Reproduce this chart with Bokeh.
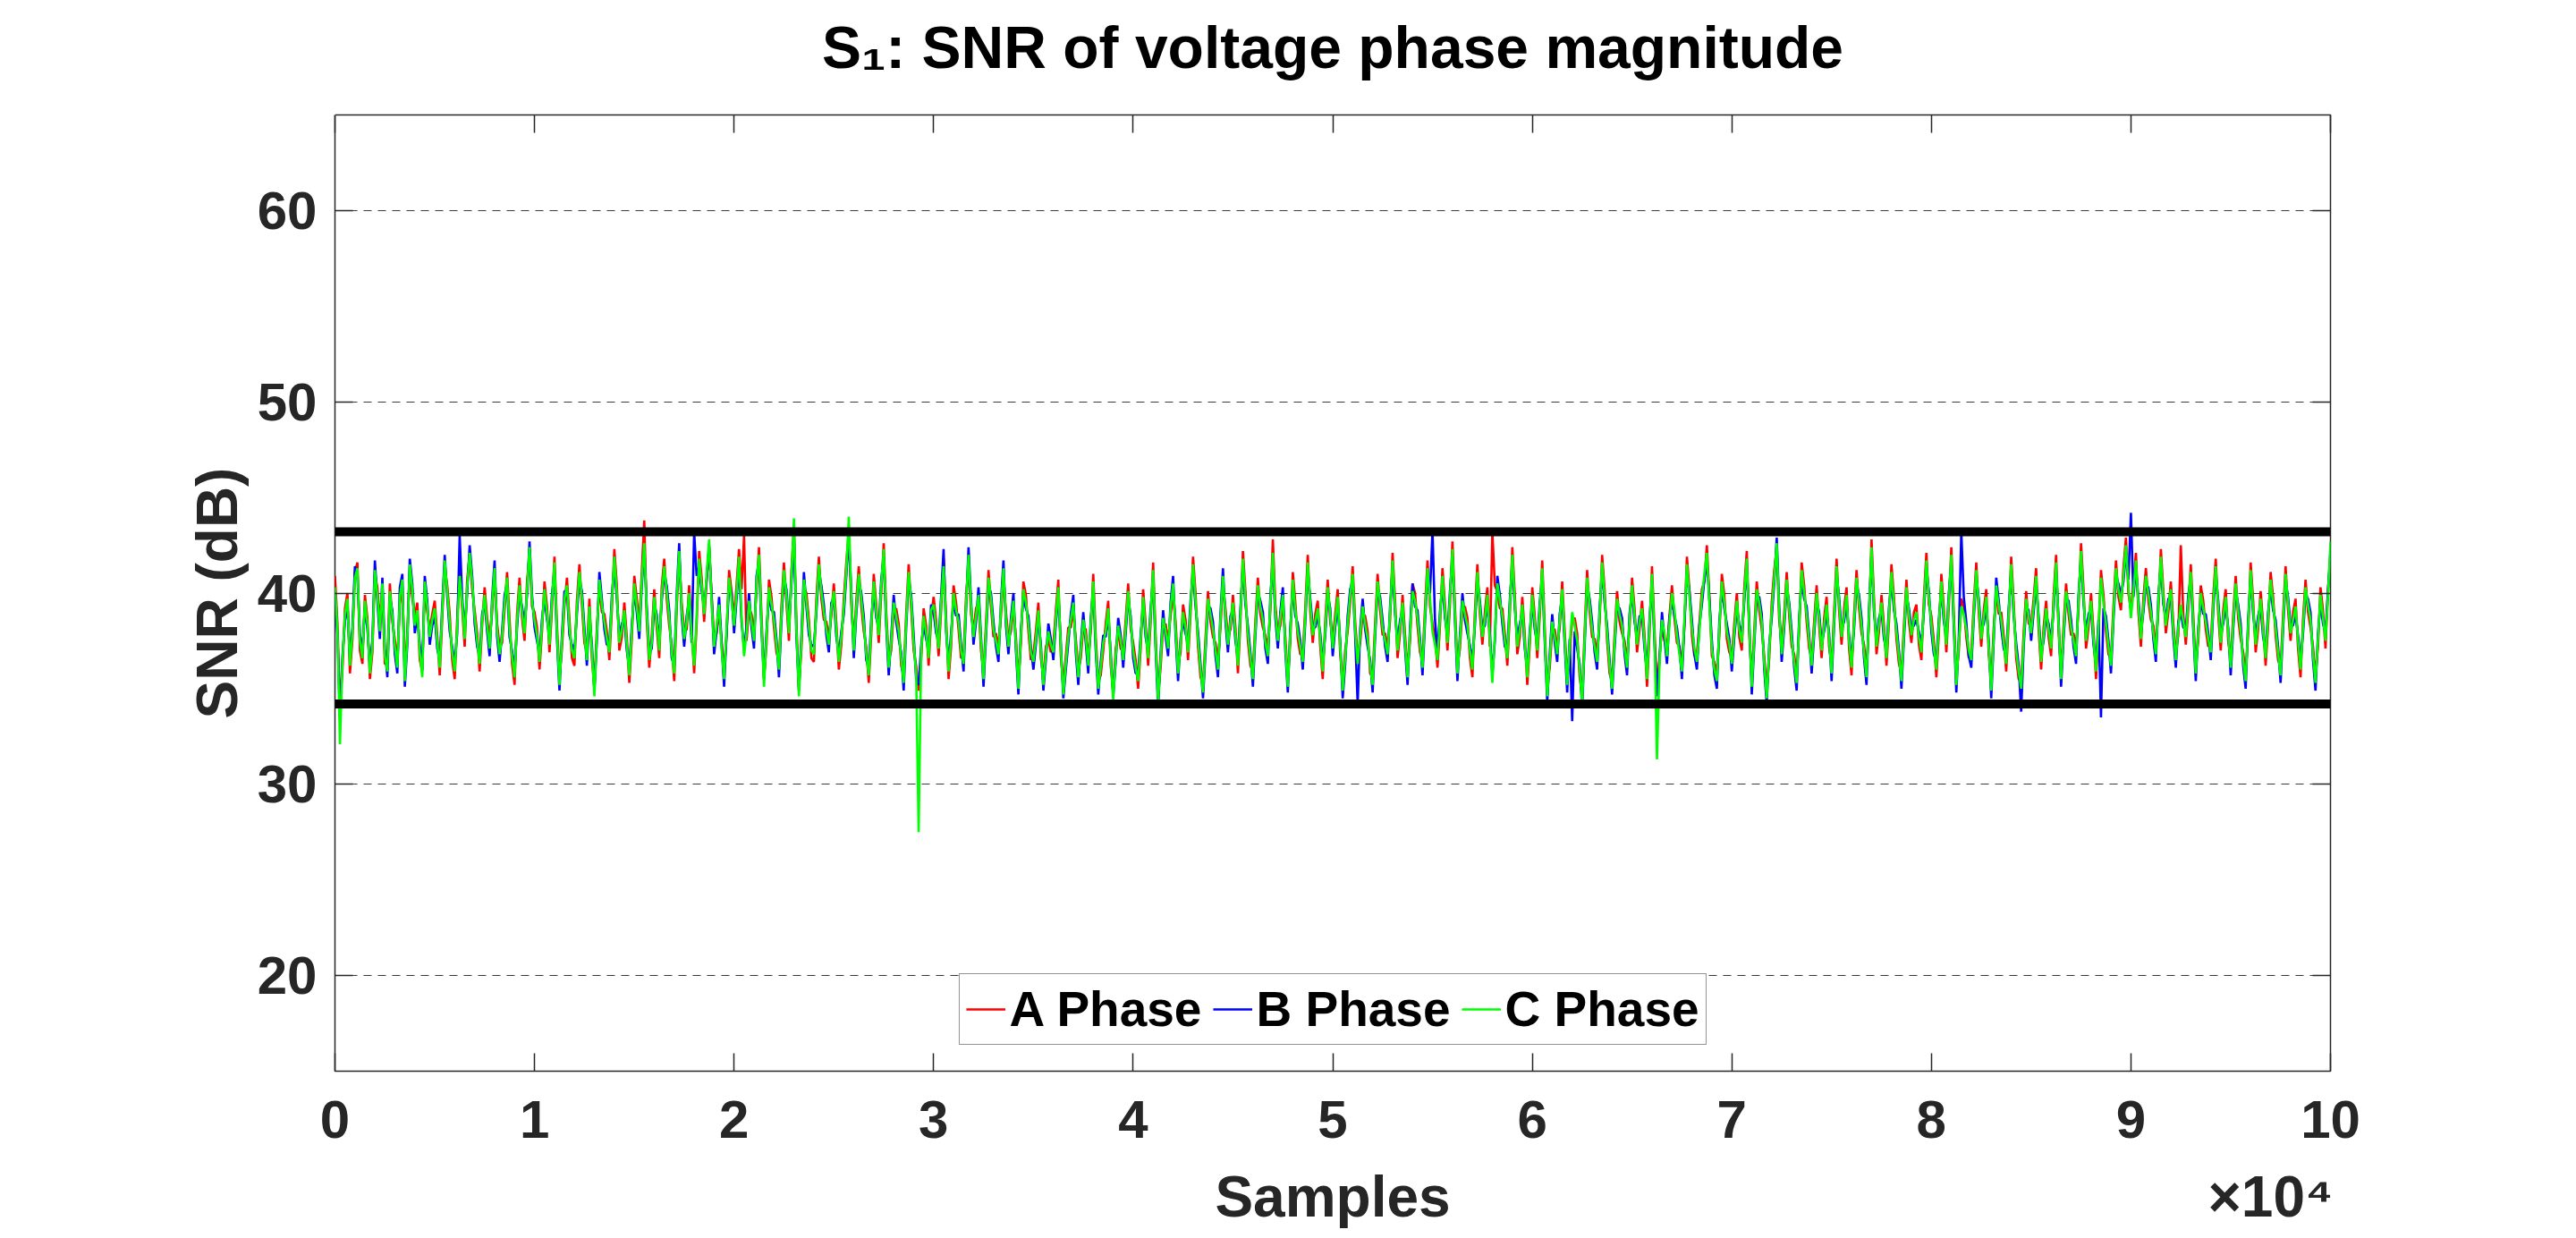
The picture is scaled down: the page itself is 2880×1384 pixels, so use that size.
import numpy as np
from bokeh.plotting import figure
from bokeh.models import Range1d, LinearAxis, FixedTicker, Legend, LegendItem, Span
from bokeh.embed import file_html
from bokeh.resources import INLINE

# ---------------- data ----------------
x_ticks = [0, 10000, 20000, 30000, 40000, 50000, 60000, 70000, 80000, 90000, 100000]
x_tick_labels = ["0", "1", "2", "3", "4", "5", "6", "7", "8", "9", "10"]
y_ticks = [20, 30, 40, 50, 60]
thresholds = [34.2, 43.2]
series_names = ["A Phase", "B Phase", "C Phase"]
n_samples = 100000
x_label = "Samples"
x_label_pos = 50000
x_multiplier = "\u00d710\u2074"
x_multiplier_pos = 97000
title_text = "S\u2081: SNR of voltage phase magnitude"

a_phase = [
    40.9, 38.4, 34.0, 36.0, 39.2, 40.0, 35.8, 37.6, 41.1, 41.6, 37.0, 36.3, 39.9, 38.7, 35.5, 36.9, 41.0, 40.3, 38.6, 40.1,
    36.3, 36.3, 40.5, 38.5, 37.6, 36.4, 39.4, 40.4, 35.9, 37.9, 41.2, 39.8, 38.8, 39.5, 36.5, 35.9, 40.2, 39.0, 38.1, 38.9,
    39.6, 37.8, 35.7, 38.7, 41.4, 40.4, 38.9, 36.5, 35.5, 38.6, 41.2, 39.2, 37.2, 40.7, 42.0, 40.2, 39.1, 37.9, 35.9, 38.3,
    40.3, 38.7, 37.5, 39.0, 41.0, 38.4, 37.2, 37.4, 39.1, 41.1, 38.6, 36.3, 35.2, 38.9, 40.8, 38.7, 37.5, 40.6, 42.0, 39.3,
    39.0, 38.2, 36.0, 38.0, 40.6, 39.3, 36.9, 39.2, 41.9, 38.3, 35.6, 37.1, 39.3, 40.8, 38.6, 36.6, 36.2, 39.6, 41.5, 39.4,
    37.4, 36.9, 39.7, 36.6, 35.0, 38.2, 40.3, 39.0, 38.9, 38.0, 36.5, 39.1, 42.3, 40.4, 37.0, 37.7, 39.5, 37.7, 35.3, 37.6,
    40.9, 39.7, 38.4, 41.1, 43.8, 38.6, 36.1, 37.8, 40.2, 38.2, 36.6, 40.3, 41.8, 39.7, 38.3, 37.3, 35.4, 39.2, 42.0, 39.5,
    38.0, 38.1, 40.4, 38.1, 35.8, 38.4, 42.2, 40.8, 38.5, 40.6, 42.4, 39.9, 37.6, 37.9, 39.0, 37.5, 35.9, 37.8, 41.2, 40.1,
    38.7, 40.4, 42.3, 40.2, 43.0, 37.5, 39.2, 38.9, 37.9, 40.2, 42.4, 38.8, 35.5, 37.3, 40.7, 39.8, 38.2, 36.9, 36.4, 39.3,
    41.6, 39.5, 37.5, 41.2, 43.4, 38.4, 35.0, 37.1, 40.3, 40.0, 38.6, 36.6, 36.4, 39.7, 41.9, 39.7, 38.6, 38.5, 37.7, 38.8,
    40.5, 38.4, 36.0, 37.3, 39.7, 41.6, 43.2, 39.4, 37.4, 39.6, 41.4, 39.3, 38.0, 37.2, 35.3, 37.9, 41.0, 39.4, 37.4, 40.0,
    42.6, 39.0, 36.5, 37.0, 39.1, 39.2, 38.4, 36.2, 35.7, 38.9, 41.5, 39.2, 37.0, 36.2, 34.9, 36.5, 39.2, 38.3, 36.2, 38.7,
    39.8, 38.6, 36.7, 39.1, 41.8, 38.7, 35.5, 37.2, 40.4, 39.5, 38.1, 36.6, 36.7, 39.8, 41.6, 38.9, 38.1, 39.2, 39.5, 37.0,
    35.9, 38.4, 41.2, 39.3, 37.7, 37.9, 37.2, 38.8, 40.9, 39.0, 37.6, 38.0, 39.2, 37.7, 35.4, 37.4, 40.6, 39.9, 38.0, 36.5,
    36.8, 38.0, 39.5, 36.6, 35.6, 37.2, 37.6, 36.9, 37.3, 39.1, 40.7, 36.7, 35.1, 36.7, 38.2, 38.2, 39.1, 37.6, 36.0, 36.6,
    38.2, 38.1, 36.6, 38.0, 41.0, 37.7, 35.4, 35.7, 37.0, 38.4, 39.6, 36.2, 34.8, 37.1, 37.9, 37.1, 36.9, 38.6, 40.5, 38.1,
    37.4, 36.5, 35.0, 37.1, 40.2, 38.4, 36.2, 38.5, 41.6, 37.8, 34.7, 36.1, 38.3, 38.4, 37.5, 38.8, 40.1, 38.5, 36.2, 36.9,
    39.4, 38.6, 36.5, 38.9, 41.9, 40.0, 37.2, 35.6, 35.2, 37.6, 40.1, 38.5, 37.7, 37.4, 36.4, 38.2, 40.5, 39.2, 37.7, 38.1,
    39.9, 38.2, 35.8, 38.5, 42.2, 40.1, 37.5, 36.2, 35.9, 38.5, 40.8, 38.9, 38.2, 37.8, 37.1, 39.1, 42.8, 39.4, 37.9, 38.3,
    39.5, 37.7, 35.5, 37.5, 41.1, 39.5, 37.6, 36.8, 36.8, 39.2, 42.0, 39.0, 37.4, 38.9, 39.6, 37.2, 35.5, 38.5, 40.7, 38.5,
    37.5, 38.9, 40.2, 36.8, 35.3, 37.0, 38.0, 39.5, 41.4, 38.5, 36.7, 37.4, 38.9, 38.8, 38.0, 35.8, 35.6, 38.4, 41.0, 39.1,
    37.8, 37.9, 37.2, 38.6, 42.1, 39.6, 36.6, 37.9, 39.9, 37.8, 36.0, 37.5, 40.5, 40.0, 38.3, 36.9, 36.5, 39.2, 41.7, 39.3,
    38.4, 37.7, 36.1, 38.3, 41.3, 39.4, 37.0, 39.4, 42.7, 39.3, 36.2, 37.1, 39.2, 39.3, 38.7, 36.6, 35.6, 39.0, 41.5, 38.9,
    37.3, 39.0, 40.3, 37.2, 43.2, 40.4, 40.1, 39.2, 39.2, 37.9, 36.2, 38.9, 42.4, 39.9, 36.8, 37.7, 39.8, 37.8, 35.2, 37.3,
    40.3, 38.8, 36.6, 38.8, 41.7, 38.2, 35.0, 36.1, 38.1, 38.1, 37.2, 38.2, 40.6, 38.0, 35.6, 36.9, 38.6, 38.7, 37.9, 35.6,
    34.6, 38.0, 41.2, 39.0, 37.7, 37.6, 36.8, 38.5, 42.0, 40.2, 37.5, 35.8, 35.4, 37.8, 40.1, 38.5, 37.9, 37.5, 36.5, 38.2,
    40.8, 39.2, 36.9, 38.1, 39.6, 37.8, 35.1, 37.9, 41.4, 38.1, 35.0, 36.6, 38.2, 37.5, 37.1, 38.8, 40.4, 38.7, 37.4, 37.2,
    36.3, 38.3, 41.9, 40.2, 37.8, 36.7, 36.8, 38.4, 40.2, 40.6, 42.5, 39.8, 36.7, 36.4, 35.8, 37.8, 41.0, 39.9, 37.6, 36.9,
    36.7, 38.4, 40.0, 37.7, 37.0, 40.3, 42.2, 37.8, 35.5, 38.0, 40.6, 39.1, 38.1, 36.7, 34.9, 36.6, 39.5, 41.2, 42.3, 38.6,
    37.2, 38.9, 41.1, 38.8, 37.2, 36.8, 35.7, 38.0, 41.6, 40.4, 38.5, 37.1, 36.6, 38.5, 40.4, 38.3, 36.6, 38.7, 39.8, 37.2,
    36.2, 39.0, 41.8, 39.1, 37.3, 39.2, 40.3, 37.1, 35.7, 38.8, 41.2, 39.2, 37.9, 37.3, 36.0, 38.4, 42.8, 39.7, 36.8, 38.0,
    39.9, 38.3, 36.2, 38.5, 41.5, 39.8, 37.6, 36.3, 35.8, 38.3, 40.7, 38.5, 37.4, 39.0, 39.4, 37.3, 36.5, 39.7, 42.1, 39.4,
    38.8, 37.5, 35.6, 37.9, 41.0, 39.2, 36.9, 39.3, 42.4, 38.9, 35.6, 37.0, 39.7, 39.3, 37.7, 36.6, 36.9, 39.4, 41.6, 39.0,
    37.2, 39.1, 40.2, 36.8, 35.3, 38.2, 40.0, 38.9, 39.0, 37.8, 35.9, 38.5, 41.9, 39.5, 36.6, 35.5, 35.4, 37.9, 40.1, 38.4,
    38.3, 39.7, 41.3, 38.1, 36.0, 38.2, 39.6, 37.7, 36.7, 39.8, 42.0, 38.0, 35.9, 38.3, 40.5, 38.9, 37.8, 37.9, 37.1, 39.2,
    42.6, 40.2, 37.1, 38.2, 40.0, 38.0, 35.5, 37.9, 41.2, 39.9, 38.0, 36.8, 36.6, 39.3, 41.7, 39.8, 39.1, 41.3, 42.9, 40.0,
    39.1, 40.5, 42.1, 39.0, 37.2, 39.7, 41.3, 39.6, 38.6, 38.3, 37.2, 39.1, 42.3, 40.1, 37.9, 39.0, 40.6, 38.4, 36.9, 37.8,
    42.5, 38.9, 37.3, 39.2, 41.5, 38.8, 36.2, 37.5, 40.4, 39.6, 38.1, 37.2, 37.3, 39.8, 41.8, 38.9, 37.0, 39.1, 40.2, 37.5,
    36.5, 38.8, 40.9, 38.7, 37.6, 36.9, 35.8, 37.9, 41.6, 39.6, 36.9, 38.1, 40.1, 38.4, 36.2, 38.3, 41.1, 39.8, 37.8, 36.5,
    36.1, 38.8, 41.4, 39.1, 37.5, 39.0, 39.7, 37.1, 35.6, 38.6, 40.7, 39.0, 38.2, 37.2, 35.7, 37.2, 40.3, 39.1, 37.1, 40.2,
    41.8,
]

b_phase = [
    40.1, 37.8, 33.5, 36.7, 38.5, 39.4, 36.6, 38.2, 41.4, 41.0, 37.9, 36.9, 39.3, 38.1, 36.2, 37.5, 41.7, 39.6, 37.6, 40.8,
    37.1, 35.6, 39.8, 39.1, 36.8, 35.8, 40.3, 41.0, 35.1, 37.3, 41.8, 40.5, 37.9, 38.8, 37.3, 36.0, 40.9, 39.6, 37.3, 38.3,
    38.8, 37.1, 36.5, 39.3, 42.0, 39.8, 38.0, 37.2, 36.3, 37.9, 43.0, 39.8, 38.0, 40.0, 42.5, 40.9, 38.4, 37.2, 36.7, 38.9,
    39.5, 38.0, 36.7, 39.7, 41.7, 37.7, 36.4, 38.0, 39.9, 40.5, 37.7, 37.0, 36.0, 38.2, 40.0, 39.3, 38.3, 39.9, 42.7, 39.9,
    38.2, 37.5, 36.8, 38.6, 39.8, 38.6, 37.7, 39.9, 41.2, 37.6, 34.9, 37.8, 40.1, 40.1, 37.8, 37.3, 37.0, 38.9, 40.7, 40.1,
    38.2, 36.2, 38.9, 37.3, 34.9, 37.5, 41.1, 39.7, 38.1, 37.3, 37.3, 39.8, 41.5, 39.7, 37.8, 38.4, 38.7, 37.0, 36.1, 38.3,
    40.1, 39.0, 37.6, 40.4, 42.3, 39.3, 36.9, 37.1, 39.4, 38.9, 37.4, 39.6, 41.0, 40.4, 39.1, 36.6, 36.2, 39.9, 42.6, 38.8,
    37.2, 38.8, 39.6, 37.4, 43.2, 40.9, 41.4, 40.1, 39.3, 40.7, 42.5, 39.8, 36.8, 38.0, 39.8, 37.4, 35.1, 37.9, 40.4, 40.0,
    37.9, 39.7, 41.5, 38.5, 37.1, 38.2, 40.0, 38.2, 37.1, 40.9, 41.6, 38.1, 35.5, 38.0, 39.9, 39.1, 39.0, 37.6, 35.6, 38.6,
    40.8, 40.2, 38.3, 40.5, 43.1, 37.7, 34.9, 37.8, 41.1, 39.3, 37.8, 37.3, 37.2, 39.0, 41.1, 40.4, 39.4, 37.8, 36.9, 39.5,
    39.7, 37.7, 36.8, 38.0, 38.9, 40.9, 43.0, 40.1, 36.6, 38.9, 40.6, 40.0, 38.8, 36.5, 36.1, 38.6, 40.2, 38.7, 38.2, 40.7,
    41.9, 38.3, 35.7, 37.7, 39.9, 38.5, 37.6, 36.9, 34.9, 38.2, 40.7, 39.9, 37.8, 35.5, 35.2, 37.2, 38.4, 37.6, 37.0, 39.4,
    39.0, 37.9, 37.5, 39.8, 42.3, 38.0, 36.3, 37.9, 39.6, 38.8, 38.9, 37.3, 35.9, 39.1, 42.4, 39.6, 37.3, 38.5, 40.3, 37.7,
    35.1, 37.7, 40.4, 40.0, 38.5, 37.2, 36.4, 39.5, 41.7, 38.3, 36.8, 38.7, 40.0, 37.0, 34.7, 38.1, 39.8, 39.2, 38.8, 37.2,
    36.0, 37.3, 38.7, 37.3, 34.9, 36.5, 38.4, 37.6, 36.5, 38.4, 39.9, 37.4, 34.5, 36.0, 37.4, 38.9, 39.9, 36.9, 35.2, 37.3,
    39.0, 37.4, 35.8, 38.7, 40.2, 37.0, 34.7, 36.4, 37.8, 37.7, 38.8, 36.9, 34.6, 36.4, 38.7, 37.8, 36.1, 37.9, 39.7, 38.8,
    36.6, 35.8, 35.8, 37.8, 39.4, 37.7, 37.0, 39.2, 40.8, 37.1, 34.0, 36.8, 39.1, 37.7, 36.7, 39.5, 40.9, 37.8, 35.4, 37.6,
    38.6, 37.9, 37.3, 39.6, 41.1, 39.3, 38.0, 36.3, 34.5, 36.9, 39.3, 39.2, 38.5, 36.7, 35.6, 38.9, 41.3, 38.5, 36.9, 38.8,
    39.1, 37.5, 36.6, 39.2, 41.4, 39.4, 38.3, 36.9, 35.1, 37.8, 40.0, 39.6, 39.0, 37.1, 36.3, 39.8, 41.7, 38.7, 37.1, 39.0,
    40.3, 37.0, 34.8, 38.2, 40.3, 38.8, 38.4, 37.5, 36.0, 38.5, 41.2, 39.7, 38.2, 38.2, 38.8, 37.9, 36.3, 37.8, 39.9, 39.2,
    36.7, 38.2, 39.4, 37.5, 34.5, 36.3, 38.8, 40.2, 40.6, 37.8, 34.2, 38.1, 39.7, 38.1, 37.2, 36.5, 34.8, 37.7, 40.2, 39.8,
    38.6, 37.2, 36.4, 39.3, 41.3, 38.9, 37.4, 38.6, 39.1, 37.1, 35.2, 38.2, 40.5, 39.3, 39.1, 37.6, 35.7, 38.5, 40.9, 40.0,
    43.3, 38.6, 36.9, 39.0, 40.5, 38.7, 37.8, 40.1, 41.9, 38.6, 35.4, 37.8, 40.0, 38.6, 37.9, 37.3, 36.4, 38.3, 40.7, 39.6,
    38.1, 38.3, 39.5, 37.9, 35.7, 37.5, 40.9, 39.9, 38.4, 37.2, 37.0, 39.6, 41.6, 39.2, 37.6, 38.4, 39.0, 37.1, 36.0, 38.0,
    39.5, 38.1, 37.4, 39.5, 40.9, 37.5, 34.3, 36.8, 38.9, 37.4, 36.4, 38.9, 39.8, 37.3, 34.8, 37.6, 33.3, 38.0, 37.1, 36.3,
    34.0, 37.3, 40.4, 39.7, 38.5, 36.9, 36.0, 39.2, 41.2, 39.5, 38.3, 36.5, 34.7, 37.1, 39.3, 39.2, 38.7, 36.8, 35.7, 38.9,
    40.0, 38.5, 37.7, 38.8, 38.8, 37.1, 35.9, 38.6, 40.6, 37.4, 34.6, 36.5, 39.0, 37.6, 36.3, 38.7, 39.6, 38.8, 38.2, 37.1,
    35.5, 38.4, 41.1, 40.1, 38.6, 36.8, 36.0, 38.3, 39.4, 40.7, 41.7, 39.7, 37.5, 35.7, 35.0, 38.5, 40.2, 39.2, 38.4, 37.6,
    35.9, 37.7, 39.2, 38.4, 37.8, 39.6, 41.4, 38.5, 34.7, 37.3, 39.8, 39.8, 38.9, 36.0, 34.2, 37.3, 38.7, 40.5, 42.9, 39.3,
    36.4, 38.2, 40.3, 39.5, 38.0, 36.1, 34.9, 38.7, 40.8, 39.7, 39.3, 37.8, 35.8, 37.8, 39.6, 39.0, 37.4, 38.0, 39.0, 37.9,
    35.4, 38.3, 41.0, 39.8, 38.1, 38.5, 39.5, 37.8, 36.5, 38.1, 40.4, 39.9, 38.7, 36.6, 35.2, 39.1, 42.0, 39.0, 37.6, 38.7,
    39.1, 37.6, 37.0, 39.2, 40.7, 39.1, 38.4, 37.0, 35.0, 37.6, 39.9, 39.2, 38.2, 38.3, 38.6, 38.0, 37.3, 39.0, 41.3, 40.1,
    38.0, 36.8, 36.4, 38.6, 40.2, 38.5, 37.7, 40.0, 41.6, 38.2, 34.8, 37.7, 43.2, 39.8, 38.5, 36.7, 36.1, 38.7, 40.8, 39.7,
    38.0, 38.4, 39.4, 37.5, 34.5, 37.5, 40.8, 39.6, 38.2, 37.1, 36.7, 39.2, 41.1, 38.8, 37.4, 36.2, 33.8, 37.2, 39.3, 39.1,
    37.5, 39.0, 40.5, 38.8, 36.8, 37.5, 38.8, 38.4, 37.5, 39.1, 41.2, 38.7, 35.1, 37.6, 39.7, 39.6, 38.6, 37.2, 36.3, 39.9,
    41.8, 39.5, 37.9, 38.9, 39.2, 37.3, 36.3, 38.6, 33.5, 39.2, 38.8, 37.5, 35.8, 38.6, 40.9, 40.5, 39.9, 40.6, 42.1, 40.7,
    44.2, 39.8, 41.3, 39.7, 38.0, 39.0, 40.5, 40.3, 39.4, 37.6, 36.4, 39.8, 41.5, 39.4, 38.7, 39.7, 39.8, 37.7, 36.1, 38.5,
    39.0, 38.2, 38.1, 39.9, 40.7, 38.1, 35.4, 38.2, 39.6, 38.9, 38.9, 37.9, 36.5, 39.1, 41.0, 39.6, 37.8, 38.4, 39.4, 38.2,
    35.7, 38.1, 40.1, 39.4, 38.4, 36.2, 35.0, 38.6, 40.8, 38.9, 37.7, 38.8, 39.3, 37.7, 37.0, 39.0, 40.3, 39.1, 38.6, 37.2,
    35.3, 38.1, 40.6, 39.8, 38.3, 38.3, 38.9, 37.8, 36.4, 37.9, 39.9, 39.7, 39.0, 36.5, 34.9, 37.9, 39.5, 38.4, 37.9, 40.1,
    42.2,
]

c_phase = [
    40.3, 38.1, 32.1, 36.4, 38.9, 39.7, 36.2, 37.9, 40.8, 41.3, 37.5, 36.6, 39.6, 38.4, 35.8, 37.2, 41.2, 39.9, 38.0, 40.5,
    36.7, 35.9, 40.1, 38.8, 37.2, 36.1, 39.8, 40.7, 35.4, 37.6, 41.5, 40.2, 38.3, 39.1, 36.9, 35.6, 40.6, 39.3, 37.7, 38.6,
    39.2, 37.4, 36.1, 39.0, 41.7, 40.1, 38.4, 36.9, 35.9, 38.2, 40.9, 39.5, 37.6, 40.3, 42.1, 40.6, 38.8, 37.5, 36.3, 38.6,
    39.9, 38.3, 37.1, 39.4, 41.3, 38.0, 36.8, 37.7, 39.5, 40.8, 38.1, 36.7, 35.6, 38.5, 40.4, 39.0, 37.9, 40.2, 42.4, 39.6,
    38.6, 37.8, 36.4, 38.3, 40.2, 38.9, 37.3, 39.6, 41.6, 37.9, 35.2, 37.5, 39.7, 40.4, 38.2, 37.0, 36.6, 39.2, 41.1, 39.8,
    37.8, 36.5, 39.3, 37.0, 34.6, 37.8, 40.7, 39.4, 38.5, 37.6, 36.9, 39.5, 41.9, 40.0, 37.4, 38.1, 39.1, 37.3, 35.7, 38.0,
    40.5, 39.3, 38.0, 40.7, 42.6, 39.0, 36.5, 37.4, 39.8, 38.6, 37.0, 39.9, 41.4, 40.1, 38.7, 36.9, 35.8, 39.6, 42.2, 39.1,
    37.6, 38.5, 40.0, 37.7, 36.2, 38.8, 41.8, 40.4, 38.9, 41.0, 42.8, 39.5, 37.2, 38.3, 39.4, 37.1, 35.5, 38.2, 40.8, 39.7,
    38.3, 40.0, 41.9, 38.8, 36.7, 37.9, 39.6, 38.5, 37.5, 40.6, 42.0, 38.4, 35.1, 37.7, 40.3, 39.4, 38.6, 37.3, 36.0, 38.9,
    41.2, 39.9, 37.9, 40.8, 43.9, 38.0, 34.6, 37.5, 40.7, 39.6, 38.2, 37.0, 36.8, 39.3, 41.5, 40.1, 39.0, 38.1, 37.3, 39.2,
    40.1, 38.0, 36.4, 37.7, 39.3, 41.2, 44.0, 39.8, 37.0, 39.2, 41.0, 39.7, 38.4, 36.8, 35.7, 38.3, 40.6, 39.0, 37.8, 40.4,
    42.3, 38.6, 36.1, 37.4, 39.5, 38.8, 38.0, 36.6, 35.3, 38.5, 41.1, 39.6, 37.4, 35.8, 27.5, 36.9, 38.8, 37.9, 36.6, 39.1,
    39.4, 38.2, 37.1, 39.5, 41.4, 38.3, 35.9, 37.6, 40.0, 39.1, 38.5, 37.0, 36.3, 39.4, 42.0, 39.3, 37.7, 38.8, 39.9, 37.4,
    35.5, 38.0, 40.8, 39.7, 38.1, 37.5, 36.8, 39.2, 41.3, 38.6, 37.2, 38.4, 39.6, 37.3, 35.0, 37.8, 40.2, 39.5, 38.4, 36.9,
    36.4, 37.6, 39.1, 37.0, 35.2, 36.8, 38.0, 37.3, 36.9, 38.7, 40.3, 37.1, 34.7, 36.3, 37.8, 38.6, 39.5, 37.2, 35.6, 37.0,
    38.6, 37.7, 36.2, 38.4, 40.6, 37.3, 35.0, 36.1, 37.4, 38.0, 39.2, 36.6, 34.4, 36.7, 38.3, 37.5, 36.5, 38.2, 40.1, 38.5,
    37.0, 36.1, 35.4, 37.5, 39.8, 38.0, 36.6, 38.9, 41.2, 37.4, 34.3, 36.5, 38.7, 38.0, 37.1, 39.2, 40.5, 38.1, 35.8, 37.3,
    39.0, 38.2, 36.9, 39.3, 41.5, 39.6, 37.6, 36.0, 34.8, 37.2, 39.7, 38.9, 38.1, 37.0, 36.0, 38.6, 40.9, 38.8, 37.3, 38.5,
    39.5, 37.8, 36.2, 38.9, 41.8, 39.7, 37.9, 36.6, 35.5, 38.1, 40.4, 39.3, 38.6, 37.4, 36.7, 39.5, 42.1, 39.0, 37.5, 38.7,
    39.9, 37.3, 35.1, 37.9, 40.7, 39.1, 38.0, 37.2, 36.4, 38.8, 41.6, 39.4, 37.8, 38.5, 39.2, 37.6, 35.9, 38.1, 40.3, 38.9,
    37.1, 38.5, 39.8, 37.2, 34.9, 36.6, 38.4, 39.9, 41.0, 38.1, 36.3, 37.8, 39.3, 38.4, 37.6, 36.2, 35.2, 38.0, 40.6, 39.5,
    38.2, 37.5, 36.8, 39.0, 41.7, 39.2, 37.0, 38.3, 39.5, 37.4, 35.6, 37.9, 40.1, 39.6, 38.7, 37.3, 36.1, 38.8, 41.3, 39.7,
    38.0, 37.3, 36.5, 38.7, 40.9, 39.0, 37.4, 39.8, 42.3, 38.9, 35.8, 37.5, 39.6, 38.9, 38.3, 37.0, 36.0, 38.6, 41.1, 39.3,
    37.7, 38.6, 39.9, 37.6, 35.3, 37.8, 40.5, 39.6, 38.8, 37.5, 36.6, 39.3, 42.0, 39.5, 37.2, 38.1, 39.4, 37.4, 35.6, 37.7,
    39.9, 38.4, 37.0, 39.2, 41.3, 37.8, 34.6, 36.5, 38.5, 37.7, 36.8, 38.6, 40.2, 37.6, 35.2, 37.3, 39.0, 38.3, 37.5, 36.0,
    34.2, 37.6, 40.8, 39.4, 38.1, 37.2, 36.4, 38.9, 41.6, 39.8, 37.9, 36.2, 35.0, 37.4, 39.7, 38.9, 38.3, 37.1, 36.1, 38.6,
    40.4, 38.8, 37.3, 38.5, 39.2, 37.4, 35.5, 38.3, 41.0, 37.7, 31.3, 36.2, 38.6, 37.9, 36.7, 38.4, 40.0, 39.1, 37.8, 36.8,
    35.9, 38.7, 41.5, 39.8, 38.2, 37.1, 36.4, 38.0, 39.8, 41.0, 42.1, 39.4, 37.1, 36.0, 35.4, 38.2, 40.6, 39.5, 38.0, 37.3,
    36.3, 38.0, 39.6, 38.1, 37.4, 39.9, 41.8, 38.2, 35.1, 37.6, 40.2, 39.5, 38.5, 36.3, 34.5, 37.0, 39.1, 40.8, 42.6, 39.0,
    36.8, 38.5, 40.7, 39.2, 37.6, 36.4, 35.3, 38.4, 41.2, 40.0, 38.9, 37.5, 36.2, 38.1, 40.0, 38.7, 37.0, 38.3, 39.4, 37.6,
    35.8, 38.6, 41.4, 39.5, 37.7, 38.8, 39.9, 37.5, 36.1, 38.4, 40.8, 39.6, 38.3, 36.9, 35.6, 38.8, 42.4, 39.3, 37.2, 38.4,
    39.5, 37.9, 36.6, 38.9, 41.1, 39.4, 38.0, 36.7, 35.4, 37.9, 40.3, 38.9, 37.8, 38.6, 39.0, 37.7, 36.9, 39.3, 41.7, 39.8,
    38.4, 37.1, 36.0, 38.3, 40.6, 38.8, 37.3, 39.7, 42.0, 38.5, 35.2, 37.4, 39.3, 38.9, 38.1, 37.0, 36.5, 39.0, 41.2, 39.4,
    37.6, 38.7, 39.8, 37.2, 34.9, 37.8, 40.4, 39.3, 38.6, 37.4, 36.3, 38.9, 41.5, 39.1, 37.0, 35.9, 35.0, 37.5, 39.7, 38.8,
    37.9, 39.3, 40.9, 38.5, 36.4, 37.8, 39.2, 38.1, 37.1, 39.4, 41.6, 38.4, 35.5, 37.9, 40.1, 39.3, 38.2, 37.5, 36.7, 39.6,
    42.2, 39.8, 37.5, 38.6, 39.6, 37.6, 35.9, 38.3, 40.8, 39.5, 38.4, 37.2, 36.2, 38.9, 41.3, 40.2, 39.5, 40.9, 42.5, 40.4,
    38.7, 40.1, 41.7, 39.4, 37.6, 39.3, 40.9, 40.0, 39.0, 37.9, 36.8, 39.5, 41.9, 39.7, 38.3, 39.4, 40.2, 38.0, 36.5, 38.2,
    39.4, 38.5, 37.7, 39.6, 41.1, 38.4, 35.8, 37.9, 40.0, 39.2, 38.5, 37.6, 36.9, 39.4, 41.4, 39.3, 37.4, 38.7, 39.8, 37.9,
    36.1, 38.4, 40.5, 39.1, 38.0, 36.5, 35.4, 38.3, 41.2, 39.2, 37.3, 38.5, 39.7, 38.0, 36.6, 38.7, 40.7, 39.4, 38.2, 36.9,
    35.7, 38.4, 41.0, 39.5, 37.9, 38.6, 39.3, 37.5, 36.0, 38.2, 40.3, 39.4, 38.6, 36.8, 35.3, 37.6, 39.9, 38.7, 37.5, 39.8,
    42.7,
]

series_values = [a_phase, b_phase, c_phase]
series_colors = ["#FF0000", "#0000FF", "#00FF00"]

# ---------------- figure ----------------
FONT = "Liberation Sans"
DARK = "#262626"

p = figure(
    frame_width=2231, frame_height=1069,
    min_border_left=374, min_border_top=128, min_border_right=275, min_border_bottom=187,
    x_range=Range1d(0, n_samples), y_range=Range1d(15, 65),
    output_backend="svg", toolbar_location=None,
    background_fill_color="white", border_fill_color="white",
    title=title_text,
)
p.outline_line_color = DARK
p.outline_line_width = 1.5

p.title.align = "center"
p.title.text_font = FONT
p.title.text_font_size = "66px"
p.title.text_font_style = "bold"
p.title.text_color = "black"
p.title.standoff = 16

renderers = []
for vals, col in zip(series_values, series_colors):
    xs = np.linspace(0, n_samples, len(vals))
    r = p.line(xs, vals, line_color=col, line_width=2.6)
    renderers.append(r)

for t in thresholds:
    p.add_layout(Span(location=t, dimension="width", line_color="black", line_width=10))

# grid
p.xgrid.visible = False
p.ygrid.grid_line_color = DARK
p.ygrid.grid_line_dash = "9 7"
p.ygrid.grid_line_width = 1
p.ygrid.grid_line_alpha = 0.9


def style_axis(ax, ticks, show_labels):
    ax.ticker = FixedTicker(ticks=ticks)
    ax.axis_line_color = None
    ax.major_tick_in = 20
    ax.major_tick_out = 0
    ax.minor_tick_in = 0
    ax.minor_tick_out = 0
    ax.minor_tick_line_color = None
    ax.major_tick_line_color = DARK
    ax.major_tick_line_width = 1.5
    if not show_labels:
        ax.major_label_overrides = {t: "" for t in ticks}
        ax.major_label_text_font_size = "1px"
        ax.major_label_standoff = 0


xa = p.xaxis[0]
style_axis(xa, x_ticks, True)
xa.major_label_overrides = {t: lab for t, lab in zip(x_ticks, x_tick_labels)}
xa.major_label_text_font = FONT
xa.major_label_text_font_size = "60px"
xa.major_label_text_font_style = "bold"
xa.major_label_text_color = DARK
xa.major_label_standoff = 33

# second row below: axis title "Samples" and the x10^4 multiplier
xb = LinearAxis()
xb.ticker = FixedTicker(ticks=[x_label_pos, x_multiplier_pos])
xb.major_label_overrides = {x_label_pos: x_label, x_multiplier_pos: x_multiplier}
xb.axis_line_color = None
xb.major_tick_line_color = None
xb.minor_tick_line_color = None
xb.major_tick_in = 0
xb.major_tick_out = 0
xb.minor_tick_in = 0
xb.minor_tick_out = 0
xb.major_label_text_font = FONT
xb.major_label_text_font_size = "64px"
xb.major_label_text_font_style = "bold"
xb.major_label_text_color = DARK
xb.major_label_standoff = 27
p.add_layout(xb, "below")

ya = p.yaxis[0]
style_axis(ya, y_ticks, True)
ya.major_label_text_font = FONT
ya.major_label_text_font_size = "60px"
ya.major_label_text_font_style = "bold"
ya.major_label_text_color = DARK
ya.major_label_standoff = 20
ya.axis_label = "SNR (dB)"
ya.axis_label_text_font = FONT
ya.axis_label_text_font_size = "64px"
ya.axis_label_text_font_style = "bold"
ya.axis_label_text_color = DARK
ya.axis_label_standoff = 6

# mirrored ticks on top and right
top_ax = LinearAxis()
style_axis(top_ax, x_ticks, False)
p.add_layout(top_ax, "above")
right_ax = LinearAxis()
style_axis(right_ax, y_ticks, False)
p.add_layout(right_ax, "right")

# spacer row between frame and title (single white outward tick at the left edge)
spacer = LinearAxis()
style_axis(spacer, [0], False)
spacer.major_tick_in = 0
spacer.major_tick_out = 31
spacer.major_tick_line_color = "white"
spacer.major_tick_line_width = 1
p.add_layout(spacer, "above")

# legend
legend = Legend(
    items=[LegendItem(label=n, renderers=[r]) for n, r in zip(series_names, renderers)],
    orientation="horizontal", location="bottom_center",
)
legend.margin = 29
legend.padding = 7
legend.spacing = 12
legend.label_standoff = 5
legend.glyph_width = 44
legend.glyph_height = 20
legend.label_text_font = FONT
legend.label_text_font_size = "55px"
legend.label_text_font_style = "bold"
legend.label_text_color = "black"
legend.border_line_color = DARK
legend.border_line_width = 1
legend.background_fill_color = "white"
legend.background_fill_alpha = 1
p.add_layout(legend)

open("out.html", "w").write(file_html(p, INLINE))
